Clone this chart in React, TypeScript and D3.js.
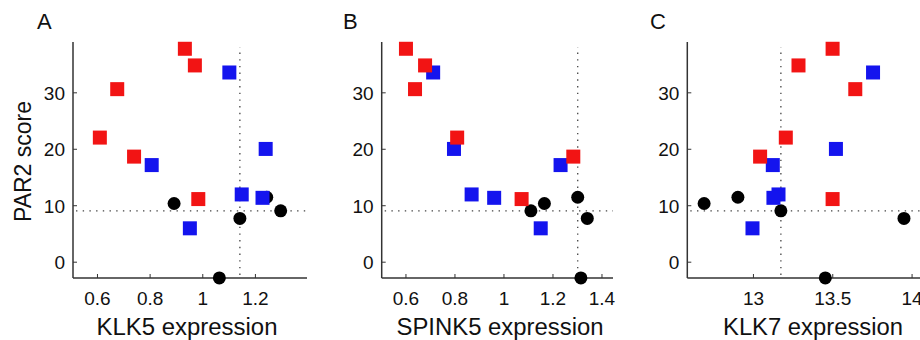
import * as d3 from "d3"

// PAR2 score and expression values per sample (same samples in every panel)
const group = [
  "red", "red", "red", "red", "red", "red",
  "blue", "blue", "blue", "blue", "blue", "blue",
  "black", "black", "black", "black", "black",
]
const par2Score = [
  37.8, 34.85, 30.65, 22.07, 18.7, 11.18,
  33.6, 20.06, 17.2, 12.0, 11.4, 6.0,
  11.5, 10.4, 9.1, 7.75, -2.78,
]
const klk5 = [
  0.932, 0.97, 0.675, 0.609, 0.739, 0.983,
  1.101, 1.239, 0.806, 1.148, 1.227, 0.951,
  1.243, 0.891, 1.296, 1.141, 1.063,
]
const spink5 = [
  0.6, 0.678, 0.637, 0.809, 1.283, 1.072,
  0.711, 0.796, 1.231, 0.868, 0.96, 1.15,
  1.301, 1.165, 1.11, 1.34, 1.314,
]
const klk7 = [
  13.499, 13.284, 13.642, 13.204, 13.042, 13.499,
  13.754, 13.52, 13.122, 13.158, 13.126, 12.994,
  12.902, 12.689, 13.173, 13.949, 13.453,
]

const yTicks = [0, 10, 20, 30]
const klk5Ticks = [0.6, 0.8, 1, 1.2]
const spink5Ticks = [0.6, 0.8, 1, 1.2, 1.4]
const klk7Ticks = [13, 13.5, 14]

const colors: Record<string, string> = {
  red: "#f21414",
  blue: "#1414ee",
  black: "#000000",
}

const font = "'Liberation Sans', Arial, Helvetica, sans-serif"
const axisColor = "#333"
const top = 42
const bottom = 278

const y = d3.scaleLinear().domain([-2.8, 39]).range([bottom, top])

type PanelProps = {
  letter: string
  letterX: number
  values: number[]
  ticks: number[]
  domain: [number, number]
  range: [number, number]
  xLabel: string
  xLabelX: number
  xLabelLen: number
}

function Panel(p: PanelProps) {
  const x = d3.scaleLinear().domain(p.domain).range(p.range)
  const [x0, x1] = p.range

  const idx = d3.range(par2Score.length)
  const black = idx.filter((i) => group[i] === "black")
  const hLine = d3.median(black, (i) => par2Score[i]) as number
  const vLine = d3.median(black, (i) => p.values[i]) as number

  // draw order: black circles, then blue, then red squares
  const order = [
    ...black,
    ...idx.filter((i) => group[i] === "blue"),
    ...idx.filter((i) => group[i] === "red"),
  ]
  const sq = 14

  return (
    <g fontFamily={font}>
      <text x={p.letterX} y={29} fontSize={22} fill="#111">
        {p.letter}
      </text>

      {/* reference lines at the median of the black group */}
      <line
        x1={x0 + 3}
        x2={x1}
        y1={y(hLine)}
        y2={y(hLine)}
        stroke="#444"
        strokeWidth={1.3}
        strokeDasharray="1.4 5.3"
      />
      <line
        x1={x(vLine)}
        x2={x(vLine)}
        y1={bottom - 3}
        y2={top + 5}
        stroke="#444"
        strokeWidth={1.3}
        strokeDasharray="1.4 5.3"
      />

      {/* axes */}
      <line x1={x0} x2={x0} y1={top} y2={bottom} stroke={axisColor} strokeWidth={1.5} />
      <line x1={x0} x2={x1} y1={bottom} y2={bottom} stroke={axisColor} strokeWidth={1.5} />
      {yTicks.map((t) => (
        <g key={"y" + t}>
          <line x1={x0} x2={x0 + 4} y1={y(t)} y2={y(t)} stroke={axisColor} strokeWidth={1} />
          <text
            x={x0 - 8}
            y={y(t) + 7}
            textAnchor="end"
            fontSize={19}
            fill="#111"
          >
            {t}
          </text>
        </g>
      ))}
      {p.ticks.map((t) => (
        <g key={"x" + t}>
          <line x1={x(t)} x2={x(t)} y1={bottom} y2={bottom - 4} stroke={axisColor} strokeWidth={1} />
          <text x={x(t)} y={305} textAnchor="middle" fontSize={19} fill="#111">
            {String(t)}
          </text>
        </g>
      ))}
      <text
        x={p.xLabelX}
        y={335}
        textAnchor="middle"
        fontSize={23}
        fill="#111"
        textLength={p.xLabelLen}
        lengthAdjust="spacingAndGlyphs"
      >
        {p.xLabel}
      </text>

      {/* points */}
      {order.map((i) =>
        group[i] === "black" ? (
          <circle
            key={i}
            cx={x(p.values[i])}
            cy={y(par2Score[i])}
            r={6.5}
            fill={colors.black}
          />
        ) : (
          <rect
            key={i}
            x={x(p.values[i]) - sq / 2}
            y={y(par2Score[i]) - sq / 2}
            width={sq}
            height={sq}
            fill={colors[group[i]]}
          />
        )
      )}
    </g>
  )
}

export default function App() {
  return (
    <svg
      width={920}
      height={340}
      style={{ position: "absolute", left: 0, top: 0, background: "#fff" }}
    >
      <text
        transform={`translate(31,161.5) rotate(-90)`}
        textAnchor="middle"
        fontSize={23}
        fontFamily={font}
        fill="#111"
      >
        PAR2 score
      </text>
      <Panel
        letter="A"
        letterX={37}
        values={klk5}
        ticks={klk5Ticks}
        domain={[0.507, 1.396]}
        range={[73, 307]}
        xLabel="KLK5 expression"
        xLabelX={187}
        xLabelLen={181}
      />
      <Panel
        letter="B"
        letterX={343}
        values={spink5}
        ticks={spink5Ticks}
        domain={[0.501, 1.445]}
        range={[381.7, 613]}
        xLabel="SPINK5 expression"
        xLabelX={500}
        xLabelLen={207}
      />
      <Panel
        letter="C"
        letterX={650}
        values={klk7}
        ticks={klk7Ticks}
        domain={[12.583, 14.05]}
        range={[687.3, 920]}
        xLabel="KLK7 expression"
        xLabelX={813}
        xLabelLen={180}
      />
    </svg>
  )
}
